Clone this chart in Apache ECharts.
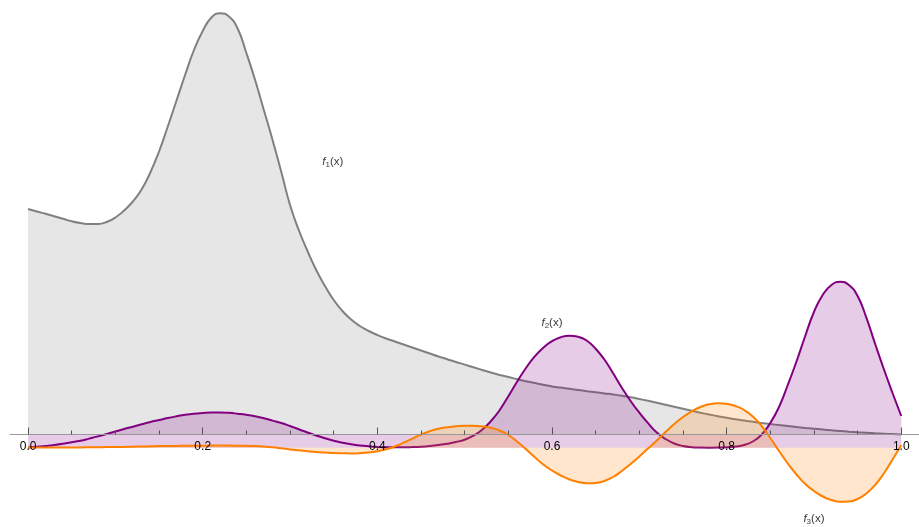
<!DOCTYPE html>
<html>
<head>
<meta charset="utf-8">
<script src="https://cdn.jsdelivr.net/npm/echarts@6/dist/echarts.min.js"></script>
<style>
  html, body { margin: 0; padding: 0; background: #ffffff; }
  #chart { width: 919px; height: 527px; }
</style>
</head>
<body>
<div id="chart"></div>
<script>
// Sampling grid on [0, 1], step 0.01
const xs = Array.from({ length: 101 }, (_, i) => +(i / 100).toFixed(2));

// f1(x): tall peak near 0.22 with a long tail
const f1 = [
  2.255, 2.23, 2.207, 2.182, 2.157, 2.132, 2.114, 2.104, 2.105, 2.125,
  2.17, 2.24, 2.33, 2.45, 2.62, 2.83, 3.08, 3.34, 3.6, 3.845,
  4.035, 4.17, 4.212, 4.18, 4.06, 3.815, 3.545, 3.245, 2.945, 2.625,
  2.295, 2.045, 1.835, 1.645, 1.485, 1.345, 1.235, 1.15, 1.085, 1.035,
  0.995, 0.96, 0.93, 0.90, 0.87, 0.84, 0.81, 0.78, 0.753, 0.725,
  0.699, 0.672, 0.645, 0.62, 0.595, 0.575, 0.553, 0.533, 0.515, 0.497,
  0.481, 0.469, 0.457, 0.445, 0.433, 0.422, 0.411, 0.40, 0.387, 0.372,
  0.355, 0.337, 0.318, 0.298, 0.277, 0.257, 0.237, 0.218, 0.20, 0.183,
  0.167, 0.153, 0.139, 0.127, 0.115, 0.104, 0.094, 0.085, 0.075, 0.066,
  0.058, 0.05, 0.042, 0.035, 0.028, 0.022, 0.017, 0.012, 0.008, 0.004,
  0.001
];

// f2(x): a low bump, then two sharper peaks
const f2 = [
  0.002, 0.009, 0.018, 0.028, 0.04, 0.054, 0.07, 0.091, 0.113, 0.137,
  0.162, 0.187, 0.21, 0.234, 0.257, 0.277, 0.297, 0.314, 0.329, 0.34,
  0.347, 0.352, 0.353, 0.349, 0.34, 0.329, 0.314, 0.294, 0.271, 0.247,
  0.217, 0.184, 0.152, 0.122, 0.094, 0.07, 0.05, 0.034, 0.022, 0.014,
  0.008, 0.005, 0.004, 0.004, 0.006, 0.01, 0.017, 0.027, 0.04, 0.057,
  0.08, 0.12, 0.18, 0.265, 0.375, 0.515, 0.66, 0.795, 0.91, 1.0,
  1.065, 1.105, 1.12, 1.11, 1.07, 0.99, 0.882, 0.745, 0.6, 0.467,
  0.35, 0.245, 0.152, 0.087, 0.042, 0.017, 0.005, 0.001, 0.0, 0.001,
  0.004, 0.012, 0.027, 0.062, 0.13, 0.247, 0.407, 0.627, 0.862, 1.117,
  1.357, 1.527, 1.627, 1.66, 1.627, 1.517, 1.3, 1.04, 0.787, 0.547,
  0.317
];

// f3(x): oscillation growing towards x = 1
const f3 = [
  0.002, 0.002, 0.002, 0.002, 0.002, 0.002, 0.003, 0.004, 0.005, 0.006,
  0.007, 0.008, 0.01, 0.012, 0.014, 0.016, 0.017, 0.018, 0.019, 0.02,
  0.02, 0.021, 0.021, 0.021, 0.02, 0.019, 0.016, 0.011, 0.004, -0.006,
  -0.017, -0.026, -0.035, -0.043, -0.049, -0.054, -0.056, -0.057, -0.055, -0.049,
  -0.036, -0.016, 0.013, 0.05, 0.091, 0.132, 0.165, 0.189, 0.204, 0.214,
  0.219, 0.219, 0.213, 0.199, 0.172, 0.127, 0.062, -0.013, -0.093, -0.168,
  -0.228, -0.278, -0.318, -0.343, -0.356, -0.353, -0.333, -0.293, -0.233, -0.163,
  -0.088, -0.008, 0.072, 0.157, 0.237, 0.307, 0.364, 0.407, 0.434, 0.444,
  0.439, 0.417, 0.377, 0.312, 0.217, 0.097, -0.033, -0.158, -0.268, -0.363,
  -0.433, -0.488, -0.523, -0.54, -0.538, -0.513, -0.458, -0.373, -0.258, -0.118,
  0.027
];

// Tick positions and labels on the x axis
const majorTicks = [0, 0.2, 0.4, 0.6, 0.8, 1.0];
const minorTicks = [0.05, 0.1, 0.15, 0.25, 0.3, 0.35, 0.45, 0.5, 0.55,
                    0.65, 0.7, 0.75, 0.85, 0.9, 0.95];

// Curve name labels: subscript and [x, y] (f1 on its own scale, f2/f3 on theirs)
const labelNames = ['1', '2', '3'];
const labelPos = [[0.349, 2.725], [0.6, 1.247], [0.9, -0.713]];

// Level of the drawn x axis, measured on the f2/f3 scale
const axisLevel = 0.132;

const xRange = [-0.0207, 1.0203];
const yRange1 = [-0.925, 4.345];
const yRange2 = [yRange1[0] + axisLevel, yRange1[1] + axisLevel];

const pairs = (ys) => xs.map((x, i) => [x, ys[i]]);
const bandTop = f2.map(v => Math.max(v, axisLevel));

const GRAY = '#808080', PURPLE = '#800080', ORANGE = '#ff8000';
const FONT = 'Liberation Sans, Arial, sans-serif';

// Plot area spans the whole canvas; the axis grids end where y = 0 of f1 falls
const plotGrid = { left: 10, right: 0, top: 0, bottom: 0, containLabel: false, outerBoundsMode: 'none' };
const axisBottom = 527 * (0 - yRange1[0]) / (yRange1[1] - yRange1[0]);
const axisGrid = { left: 10, right: 0, top: 0, bottom: axisBottom, containLabel: false, outerBoundsMode: 'none' };

const chart = echarts.init(document.getElementById('chart'), null, { renderer: 'canvas' });

chart.setOption({
  animation: false,
  backgroundColor: '#ffffff',
  grid: [plotGrid, axisGrid, axisGrid],
  xAxis: [
    {
      gridIndex: 0, type: 'value', min: xRange[0], max: xRange[1], show: false
    },
    {
      gridIndex: 1, type: 'value', min: xRange[0], max: xRange[1], position: 'bottom',
      splitLine: { show: false },
      axisLine: { show: true, onZero: false, lineStyle: { color: '#999999', width: 1.2 } },
      axisTick: { show: true, inside: true, length: 7, customValues: majorTicks,
                  lineStyle: { color: '#555555', width: 1 } },
      axisLabel: { show: true, customValues: majorTicks, margin: 6,
                   formatter: v => v.toFixed(1),
                   color: '#000000', fontFamily: FONT, fontSize: 12 },
      z: 10
    },
    {
      gridIndex: 2, type: 'value', min: xRange[0], max: xRange[1], position: 'bottom',
      splitLine: { show: false },
      axisLine: { show: false, onZero: false },
      axisTick: { show: true, inside: true, length: 4, customValues: minorTicks,
                  lineStyle: { color: '#555555', width: 1 } },
      axisLabel: { show: false },
      z: 10
    }
  ],
  yAxis: [
    { gridIndex: 0, type: 'value', min: yRange1[0], max: yRange1[1], show: false },
    { gridIndex: 0, type: 'value', min: yRange2[0], max: yRange2[1], show: false },
    { gridIndex: 1, type: 'value', min: 0, max: 1, show: false },
    { gridIndex: 2, type: 'value', min: 0, max: 1, show: false }
  ],
  series: [
    {
      name: 'f1', type: 'line', xAxisIndex: 0, yAxisIndex: 0,
      data: pairs(f1), smooth: 0.5, showSymbol: false,
      lineStyle: { color: GRAY, width: 2 },
      areaStyle: { color: GRAY, opacity: 0.2 },
      z: 2
    },
    {
      name: 'f2 fill', type: 'line', xAxisIndex: 0, yAxisIndex: 1,
      data: pairs(bandTop), smooth: 0.5, showSymbol: false,
      lineStyle: { width: 0, opacity: 0 },
      areaStyle: { color: PURPLE, opacity: 0.2 },
      z: 3
    },
    {
      name: 'f2', type: 'line', xAxisIndex: 0, yAxisIndex: 1,
      data: pairs(f2), smooth: 0.5, showSymbol: false,
      lineStyle: { color: PURPLE, width: 2 },
      z: 3
    },
    {
      name: 'f3', type: 'line', xAxisIndex: 0, yAxisIndex: 1,
      data: pairs(f3), smooth: 0.5, showSymbol: false,
      lineStyle: { color: ORANGE, width: 2 },
      areaStyle: { color: ORANGE, opacity: 0.2 },
      z: 4
    },
    {
      name: 'labels', type: 'scatter', xAxisIndex: 0, yAxisIndex: 0,
      symbolSize: 0, silent: true,
      data: labelPos.map((p, i) => ({
        value: i === 0 ? p : [p[0], p[1] - axisLevel],
        name: labelNames[i]
      })),
      label: {
        show: true, position: 'inside',
        formatter: p => '{f|f}{s|' + p.name + '}{p|(x)}',
        rich: {
          f: { fontFamily: FONT, fontStyle: 'italic', fontSize: 11.5, color: '#000', lineHeight: 14 },
          s: { fontFamily: FONT, fontSize: 8, color: '#000', lineHeight: 8, verticalAlign: 'bottom' },
          p: { fontFamily: FONT, fontSize: 11.5, color: '#000', lineHeight: 14 }
        }
      },
      z: 20
    }
  ]
});
</script>
</body>
</html>
